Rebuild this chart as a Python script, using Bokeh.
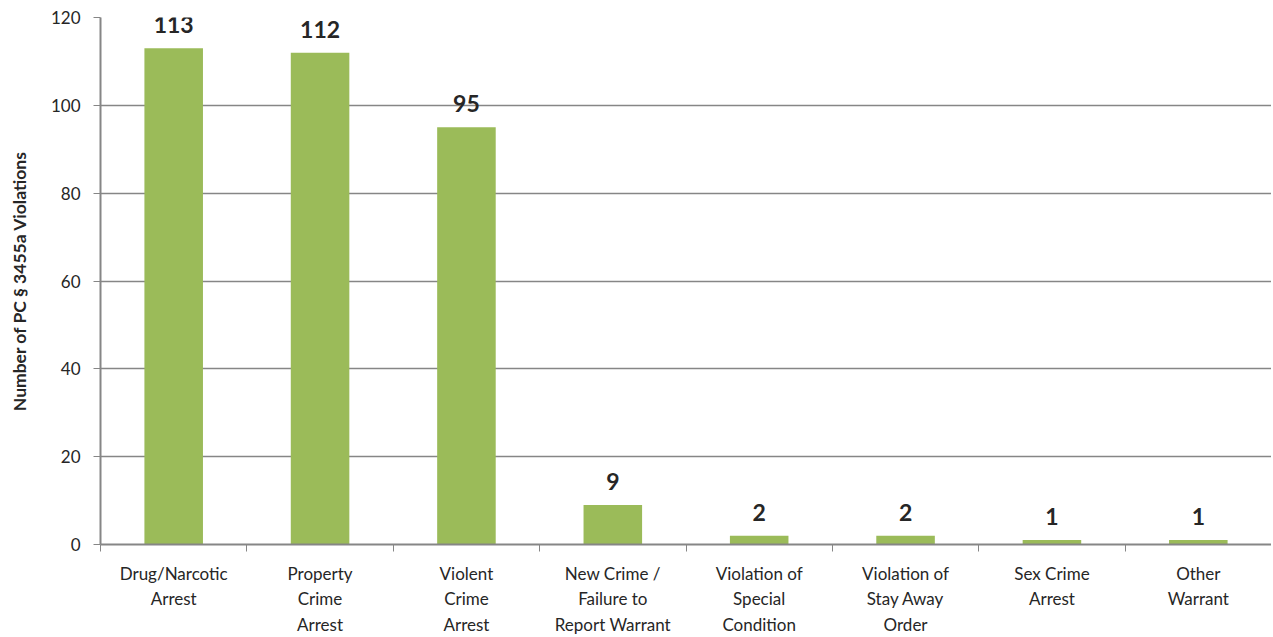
from bokeh.plotting import figure
from bokeh.models import FixedTicker, ColumnDataSource, Range1d
from bokeh.embed import file_html
from bokeh.resources import INLINE
from bokeh.core.properties import value

categories = ["Drug/Narcotic\nArrest", "Property\nCrime\nArrest", "Violent\nCrime\nArrest",
              "New Crime /\nFailure to\nReport Warrant", "Violation of\nSpecial\nCondition",
              "Violation of\nStay Away\nOrder", "Sex Crime\nArrest", "Other\nWarrant"]
counts = [113, 112, 95, 9, 2, 2, 1, 1]
y_ticks = [0, 20, 40, 60, 80, 100, 120]

FONT = "Lato"
GRID = "#868686"
TXT = "#262626"

xs = [i + 0.5 for i in range(len(categories))]
src = ColumnDataSource(dict(x=xs, top=counts, lbl=[str(c) for c in counts]))

p = figure(width=1271, height=637, output_backend="svg", toolbar_location=None,
           x_range=Range1d(0, len(categories)), y_range=Range1d(0, 120))
p.min_border_left = 100
p.min_border_top = 17
p.min_border_right = 0
p.min_border_bottom = 92
p.outline_line_color = None
p.background_fill_color = "white"
p.border_fill_color = "white"

p.vbar(x="x", top="top", width=0.4, bottom=0, source=src,
       fill_color="#9BBB59", line_color=None)
p.text(x="x", y="top", text="lbl", source=src, text_align="center", text_baseline="bottom",
       y_offset=-15, text_font=value(FONT), text_font_style="bold", text_font_size="23px",
       text_color=TXT)

# x axis
xa = p.xaxis[0]
xa.ticker = FixedTicker(ticks=xs, minor_ticks=list(range(len(categories) + 1)))
xa.major_label_overrides = {x: c for x, c in zip(xs, categories)}
xa.major_tick_out = 0
xa.major_tick_in = 0
xa.minor_tick_out = 7
xa.minor_tick_in = 0
xa.minor_tick_line_color = GRID
xa.axis_line_color = GRID
xa.axis_line_width = 2
xa.major_label_text_font = FONT
xa.major_label_text_font_size = "17px"
xa.major_label_text_color = TXT
xa.major_label_text_line_height = 1.22
xa.major_label_standoff = 11

# y axis
ya = p.yaxis[0]
ya.ticker = FixedTicker(ticks=y_ticks)
ya.minor_tick_line_color = None
ya.major_tick_out = 7
ya.major_tick_in = 0
ya.major_tick_line_color = GRID
ya.axis_line_color = GRID
ya.axis_line_width = 2
ya.major_label_text_font = FONT
ya.major_label_text_font_size = "17px"
ya.major_label_text_color = TXT
ya.major_label_standoff = 13
ya.axis_label = "Number of PC § 3455a Violations"
ya.axis_label_text_font = FONT
ya.axis_label_text_font_style = "bold"
ya.axis_label_text_font_size = "17.5px"
ya.axis_label_text_color = TXT
ya.axis_label_standoff = 18

p.xgrid.grid_line_color = None
p.ygrid.grid_line_color = GRID
p.ygrid.grid_line_width = 1.5
p.ygrid.ticker = FixedTicker(ticks=y_ticks)

open("out.html", "w").write(file_html(p, INLINE))
